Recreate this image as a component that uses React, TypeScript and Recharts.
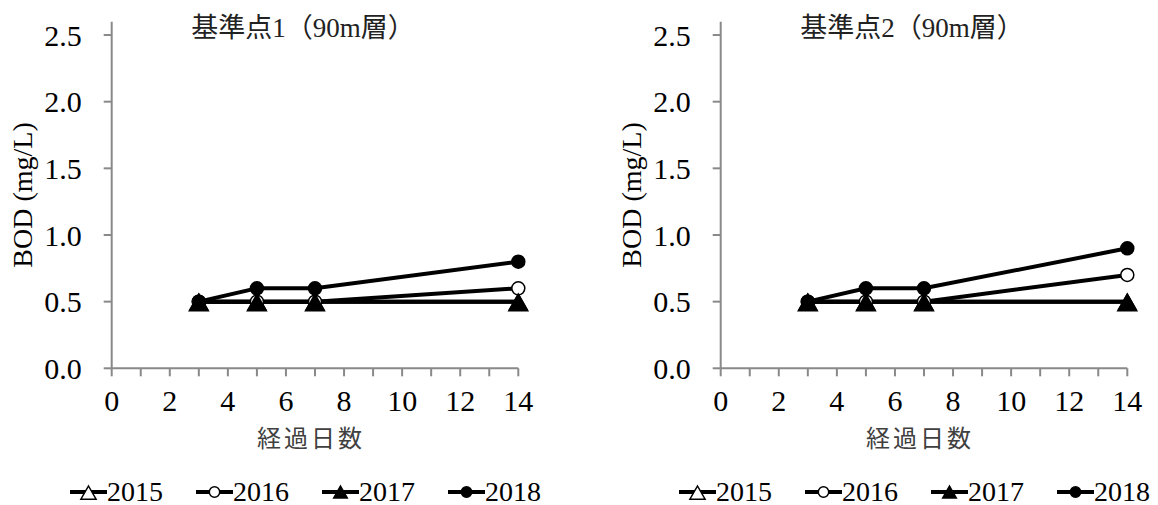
import { LineChart, Line, XAxis, YAxis } from 'recharts';

const days = [3, 5, 7, 14];
const xTicks = [0, 1, 2, 3, 4, 5, 6, 7, 8, 9, 10, 11, 12, 13, 14];
const yTicks = [0, 0.5, 1.0, 1.5, 2.0, 2.5];
const years = ['2015', '2016', '2017', '2018'];

// 基準点1
const site1Y2015 = [0.5, 0.5, 0.5, 0.5];
const site1Y2016 = [0.5, 0.5, 0.5, 0.6];
const site1Y2017 = [0.5, 0.5, 0.5, 0.5];
const site1Y2018 = [0.5, 0.6, 0.6, 0.8];

// 基準点2
const site2Y2015 = [0.5, 0.5, 0.5, 0.5];
const site2Y2016 = [0.5, 0.5, 0.5, 0.7];
const site2Y2017 = [0.5, 0.5, 0.5, 0.5];
const site2Y2018 = [0.5, 0.6, 0.6, 0.9];

const SERIF = "'Liberation Serif', 'Noto Sans CJK JP', serif";
const AXIS = '#898989';

type Marker = 'triOpen' | 'circOpen' | 'triFill' | 'circFill';
const markers: Marker[] = ['triOpen', 'circOpen', 'triFill', 'circFill'];

function markerShape(kind: Marker, cx: number, cy: number, scale = 1, key?: string) {
  if (kind === 'triOpen' || kind === 'triFill') {
    const w = (kind === 'triOpen' ? 9.5 : 8.5) * scale;
    const top = 7.5 * scale;
    const bot = (kind === 'triOpen' ? 9 : 7.5) * scale;
    return (
      <path
        key={key}
        d={`M${cx},${cy - top}L${cx + w},${cy + bot}L${cx - w},${cy + bot}Z`}
        fill={kind === 'triOpen' ? '#fff' : '#000'}
        stroke="#000"
        strokeWidth={1.5}
      />
    );
  }
  return (
    <circle
      key={key}
      cx={cx}
      cy={cy}
      r={6.5 * scale}
      fill={kind === 'circOpen' ? '#fff' : '#000'}
      stroke="#000"
      strokeWidth={1.5}
    />
  );
}

interface PanelProps {
  left: number;
  title: string;
  s2015: number[];
  s2016: number[];
  s2017: number[];
  s2018: number[];
}

function Panel({ left, title, s2015, s2016, s2017, s2018 }: PanelProps) {
  const data = days.map((d, i) => ({
    day: d,
    y2015: s2015[i],
    y2016: s2016[i],
    y2017: s2017[i],
    y2018: s2018[i],
  }));

  return (
    <div style={{ position: 'absolute', left, top: 0, width: 549, height: 505 }}>
      <LineChart
        width={549}
        height={505}
        data={data}
        margin={{ top: 21.7, right: 30.7, left: 0, bottom: 96.7 }}
      >
        <XAxis
          type="number"
          dataKey="day"
          domain={[0, 14]}
          ticks={xTicks}
          interval={0}
          height={40}
          tickFormatter={(v: number) => (v % 2 === 0 ? String(v) : '')}
          tickSize={8}
          tickMargin={13}
          axisLine={{ stroke: AXIS, strokeWidth: 2 }}
          tickLine={{ stroke: AXIS, strokeWidth: 2 }}
          tick={{ fill: '#000', fontSize: 30, fontFamily: SERIF }}
        />
        <YAxis
          type="number"
          domain={[0, 2.6]}
          ticks={yTicks}
          interval={0}
          width={111.7}
          tickFormatter={(v: number) => v.toFixed(1)}
          tickSize={8}
          tickMargin={22}
          axisLine={{ stroke: AXIS, strokeWidth: 2 }}
          tickLine={{ stroke: AXIS, strokeWidth: 2 }}
          tick={{ fill: '#000', fontSize: 30, fontFamily: SERIF }}
        />
        {years.map((y, k) => (
          <Line
            key={y}
            type="linear"
            dataKey={`y${y}`}
            stroke="#000"
            strokeWidth={4}
            isAnimationActive={false}
            activeDot={false}
            dot={(p: any) => markerShape(markers[k], p.cx, p.cy, 1, `${y}-${p.index}`)}
          />
        ))}
      </LineChart>

      <div
        style={{
          position: 'absolute',
          left: 303,
          top: 25,
          transform: 'translate(-50%, -50%)',
          whiteSpace: 'nowrap',
          fontFamily: SERIF,
          fontSize: 27,
          color: '#222',
        }}
      >
        {title}
      </div>

      <div
        style={{
          position: 'absolute',
          left: 23,
          top: 195,
          transform: 'translate(-50%, -50%) rotate(-90deg)',
          whiteSpace: 'nowrap',
          fontFamily: SERIF,
          fontSize: 28,
          color: '#000',
        }}
      >
        BOD (mg/L)
      </div>

      <div
        style={{
          position: 'absolute',
          left: 311,
          top: 436,
          transform: 'translate(-50%, -50%)',
          whiteSpace: 'nowrap',
          fontFamily: "'Noto Sans CJK JP', sans-serif",
          fontSize: 24,
          letterSpacing: 3,
          color: '#404040',
        }}
      >
        経過日数
      </div>

      <div
        style={{
          position: 'absolute',
          left: 70,
          top: 477,
          height: 30,
          display: 'flex',
          alignItems: 'center',
          gap: 33,
          whiteSpace: 'nowrap',
        }}
      >
        {years.map((y, k) => (
          <div key={y} style={{ display: 'flex', alignItems: 'center' }}>
            <svg width={37} height={20}>
              <line x1={0} y1={10} x2={37} y2={10} stroke="#000" strokeWidth={4} />
              {markerShape(markers[k], 18.5, 10, 0.8)}
            </svg>
            <span style={{ fontFamily: SERIF, fontSize: 28, lineHeight: '30px', color: '#000' }}>{y}</span>
          </div>
        ))}
      </div>
    </div>
  );
}

export default function App() {
  return (
    <div style={{ position: 'absolute', left: 0, top: 0, width: 1158, height: 505, background: '#fff' }}>
      <Panel
        left={0}
        title="基準点1（90m層）"
        s2015={site1Y2015}
        s2016={site1Y2016}
        s2017={site1Y2017}
        s2018={site1Y2018}
      />
      <Panel
        left={609}
        title="基準点2（90m層）"
        s2015={site2Y2015}
        s2016={site2Y2016}
        s2017={site2Y2017}
        s2018={site2Y2018}
      />
    </div>
  );
}
